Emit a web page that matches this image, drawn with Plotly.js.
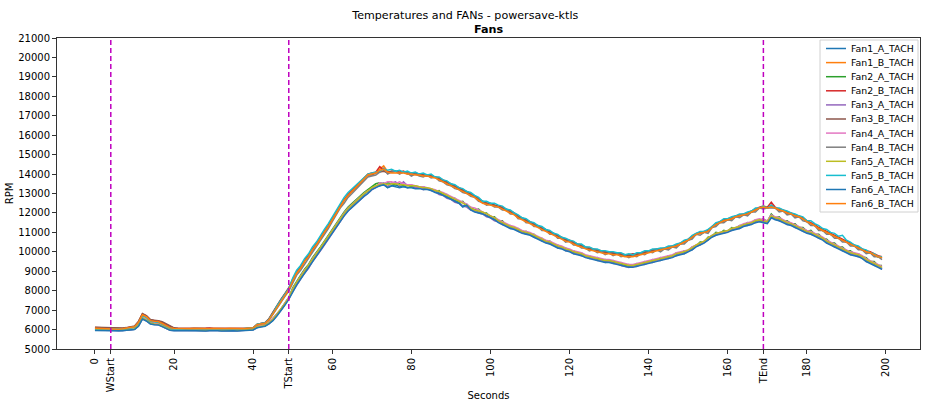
<!DOCTYPE html>
<html>
<head>
<meta charset="utf-8">
<script src="https://cdn.plot.ly/plotly-3.0.1.min.js"></script>
<style>
  html, body { margin: 0; padding: 0; background: #fff; }
  #chart { width: 925px; height: 401px; }
</style>
</head>
<body>
<div id="chart"></div>
<script>
// Fan tachometer readings (RPM), one sample per second, 0..199 s
const fan1A = [
  5980,5980,5970,5960,5950,5950,5940,5960,5980,6000,
  6020,6200,6580,6480,6330,6280,6270,6180,6080,5980,
  5960,5950,5960,5970,5960,5960,5970,5960,5950,5960,
  5970,5960,5950,5960,5970,5960,5950,5960,5970,5980,
  6000,6120,6180,6200,6320,6500,6750,7000,7300,7600,
  8050,8400,8700,9000,9250,9600,9850,10150,10450,10750,
  11050,11400,11700,11950,12200,12400,12600,12800,12950,13100,
  13250,13350,13400,13450,13300,13400,13450,13350,13400,13300,
  13350,13300,13300,13250,13250,13200,13100,13050,12950,12850,
  12750,12650,12550,12350,12450,12200,12100,12050,12000,11900,
  11800,11700,11550,11450,11350,11250,11200,11100,11000,10950,
  10900,10800,10700,10600,10500,10450,10350,10250,10200,10100,
  10050,9950,9900,9850,9750,9700,9650,9600,9550,9500,
  9500,9450,9400,9350,9300,9250,9250,9300,9350,9400,
  9450,9500,9550,9600,9650,9700,9750,9850,9900,9950,
  10050,10150,10300,10400,10500,10650,10800,10900,10950,11000,
  11050,11150,11200,11250,11350,11400,11450,11550,11600,11550,
  11500,11800,11700,11650,11550,11450,11400,11300,11200,11100,
  11000,10950,10850,10750,10650,10500,10400,10300,10200,10100,
  10000,9900,9850,9800,9700,9550,9450,9350,9250,9150
];
const fan1B = [
  6080,6070,6060,6050,6040,6030,6030,6050,6080,6120,
  6150,6380,6780,6680,6480,6440,6420,6320,6220,6120,
  6060,6050,6060,6050,6050,6060,6050,6060,6060,6050,
  6060,6050,6040,6050,6060,6050,6040,6050,6060,6070,
  6100,6270,6320,6340,6520,6820,7180,7480,7780,8080,
  8520,8920,9180,9520,9780,10120,10380,10720,11020,11320,
  11680,12020,12380,12680,12920,13120,13320,13520,13780,13980,
  14020,14080,14250,14420,14120,14100,14150,14100,14100,14050,
  14050,14000,14000,13950,13950,13900,13850,13750,13650,13550,
  13450,13350,13250,13150,13050,12950,12850,12700,12550,12500,
  12450,12400,12350,12250,12150,12050,11950,11800,11700,11600,
  11500,11400,11300,11200,11100,11000,10900,10800,10700,10600,
  10550,10450,10350,10300,10200,10150,10100,10050,10000,9950,
  9950,9900,9900,9850,9800,9750,9800,9850,9900,9950,
  10000,10050,10100,10100,10150,10200,10250,10300,10400,10500,
  10600,10750,10900,10950,11000,11050,11250,11400,11500,11600,
  11650,11700,11800,11850,11900,11950,12050,12150,12250,12300,
  12250,12350,12250,12150,12100,12000,11950,11850,11800,11700,
  11550,11450,11350,11200,11100,11000,10900,10800,10700,10600,
  10500,10400,10300,10200,10100,10000,9950,9850,9750,9700
];
const fan2A = [
  6000,6000,5990,5980,5980,5970,5970,5980,6000,6020,
  6050,6250,6600,6500,6350,6300,6300,6200,6100,6000,
  5980,5970,5980,5990,5980,5980,5990,5980,5980,5990,
  5990,5980,5980,5990,5990,5980,5980,5990,5990,6000,
  6020,6150,6200,6220,6350,6550,6800,7050,7350,7650,
  8150,8500,8800,9100,9350,9700,9950,10250,10550,10850,
  11150,11500,11800,12050,12300,12500,12700,12900,13050,13200,
  13350,13500,13550,13500,13550,13500,13450,13500,13400,13450,
  13350,13400,13300,13350,13250,13250,13100,13150,12950,12950,
  12750,12750,12550,12600,12350,12300,12150,12200,12000,12000,
  11800,11800,11600,11600,11350,11350,11200,11200,11000,11050,
  10900,10900,10700,10700,10500,10550,10350,10350,10200,10200,
  10050,10050,9900,9950,9750,9800,9650,9700,9550,9600,
  9500,9550,9400,9450,9300,9350,9250,9400,9350,9500,
  9450,9600,9550,9700,9650,9800,9750,9950,9900,10050,
  10050,10250,10300,10500,10500,10750,10800,11000,10950,11100,
  11050,11250,11200,11350,11350,11500,11450,11650,11600,11700,
  11550,11950,11750,11800,11600,11600,11450,11450,11250,11250,
  11050,11100,10900,10900,10700,10650,10450,10450,10250,10250,
  10050,10050,9900,9900,9750,9700,9500,9500,9300,9300
];
const fan2B = [
  6100,6090,6080,6070,6060,6050,6040,6060,6090,6130,
  6160,6400,6800,6700,6500,6460,6440,6350,6250,6140,
  6070,6060,6050,6060,6050,6050,6060,6050,6070,6080,
  6050,6060,6050,6040,6050,6060,6050,6040,6050,6060,
  6090,6260,6330,6360,6550,6850,7200,7520,7820,8100,
  8550,8950,9200,9550,9800,10150,10400,10750,11050,11350,
  11700,12050,12400,12700,12950,13150,13350,13550,13800,14000,
  14050,14100,14380,14200,14100,14150,14150,14100,14150,14050,
  14000,14050,14000,13950,13900,13900,13850,13800,13700,13600,
  13500,13400,13300,13200,13100,13000,12850,12750,12600,12500,
  12500,12400,12350,12300,12200,12100,12000,11850,11750,11650,
  11550,11450,11350,11250,11150,11050,10950,10850,10750,10650,
  10600,10500,10400,10350,10250,10200,10150,10100,10050,10000,
  10000,9950,9950,9900,9850,9850,9900,9900,9950,10000,
  10050,10100,10150,10150,10200,10250,10300,10350,10450,10550,
  10650,10800,10950,11000,11050,11100,11300,11450,11550,11650,
  11700,11750,11850,11900,11950,12000,12100,12200,12300,12350,
  12300,12550,12300,12200,12150,12050,12000,11900,11850,11750,
  11600,11500,11400,11250,11150,11050,10950,10850,10750,10650,
  10550,10450,10350,10250,10150,10050,10000,9900,9800,9750
];
const fan3A = [
  5960,5960,5950,5950,5940,5940,5930,5950,5970,5990,
  6010,6180,6550,6450,6300,6260,6250,6160,6060,5970,
  5950,5940,5950,5960,5950,5950,5960,5950,5940,5950,
  5960,5950,5940,5950,5960,5950,5940,5950,5960,5970,
  5990,6100,6160,6180,6300,6480,6720,6980,7280,7580,
  7950,8300,8600,8900,9150,9500,9750,10050,10350,10650,
  10950,11300,11600,11850,12100,12300,12500,12700,12850,13000,
  13200,13300,13450,13550,13350,13550,13600,13400,13600,13400,
  13450,13300,13350,13200,13250,13150,13100,12950,12900,12750,
  12700,12550,12500,12350,12300,12150,12100,12000,11950,11800,
  11750,11600,11550,11400,11350,11200,11200,11050,11000,10900,
  10900,10750,10700,10550,10500,10400,10350,10200,10200,10050,
  10050,9900,9900,9800,9750,9650,9650,9550,9550,9450,
  9500,9400,9400,9300,9250,9200,9250,9250,9350,9350,
  9450,9450,9550,9550,9650,9650,9750,9800,9900,9900,
  10050,10100,10300,10350,10500,10600,10800,10850,10950,10950,
  11050,11100,11200,11200,11350,11350,11450,11500,11600,11500,
  11500,11750,11700,11600,11550,11400,11400,11250,11200,11050,
  11000,10900,10850,10700,10650,10450,10400,10250,10200,10050,
  10000,9850,9850,9750,9700,9500,9450,9300,9250,9100
];
const fan3B = [
  6120,6110,6100,6090,6080,6070,6060,6080,6100,6140,
  6180,6420,6820,6720,6520,6480,6460,6400,6300,6170,
  6090,6070,6060,6050,6060,6070,6060,6050,6060,6050,
  6060,6070,6060,6050,6040,6050,6060,6050,6060,6070,
  6080,6240,6310,6330,6560,6900,7250,7550,7850,8150,
  8600,8950,9250,9550,9800,10100,10350,10700,11000,11300,
  11650,12000,12350,12650,12900,13100,13300,13500,13750,13950,
  13950,14050,14100,14150,14050,14150,14150,14050,14100,14000,
  14050,14000,13950,13950,13900,13900,13850,13750,13650,13550,
  13450,13350,13250,13150,13050,12950,12850,12700,12600,12500,
  12450,12400,12300,12250,12150,12050,11950,11800,11700,11600,
  11500,11400,11300,11200,11100,11000,10900,10800,10700,10600,
  10550,10450,10350,10300,10200,10150,10100,10050,10000,9950,
  9950,9900,9900,9850,9800,9800,9800,9850,9900,9950,
  10000,10050,10100,10100,10150,10200,10250,10300,10400,10500,
  10600,10750,10900,10950,11000,11050,11250,11400,11500,11600,
  11650,11700,11800,11850,11900,11950,12050,12150,12250,12300,
  12250,12400,12250,12150,12100,12000,11950,11850,11800,11700,
  11550,11450,11350,11200,11100,11000,10900,10800,10700,10600,
  10500,10400,10300,10200,10100,10000,9950,9850,9750,9700
];
const fan4A = [
  6000,6000,5990,5990,5980,5970,5970,5990,6010,6030,
  6060,6260,6620,6520,6370,6320,6310,6210,6110,6010,
  5990,5980,5990,6000,5990,5990,6000,5990,5990,6000,
  6000,5990,5990,6000,6000,5990,5990,6000,6000,6010,
  6030,6160,6210,6230,6360,6560,6800,7050,7350,7650,
  8100,8450,8750,9050,9300,9650,9900,10200,10500,10800,
  11100,11450,11750,12000,12250,12450,12650,12850,13000,13150,
  13200,13350,13550,13500,13600,13600,13500,13600,13500,13450,
  13450,13400,13350,13350,13300,13250,13200,13100,13050,12950,
  12850,12750,12650,12550,12450,12300,12250,12150,12050,11950,
  11850,11750,11650,11550,11450,11350,11300,11200,11100,11050,
  11000,10900,10800,10700,10600,10550,10450,10350,10300,10200,
  10150,10050,10000,9950,9850,9800,9750,9700,9650,9600,
  9600,9550,9500,9450,9400,9350,9350,9400,9450,9500,
  9550,9600,9650,9700,9750,9800,9850,9950,10000,10050,
  10100,10250,10350,10450,10550,10700,10850,10950,11000,11050,
  11100,11200,11250,11350,11450,11500,11550,11650,11700,11650,
  11600,11900,11800,11750,11650,11550,11500,11400,11300,11200,
  11100,11050,10950,10850,10750,10600,10500,10400,10300,10200,
  10100,10000,9950,9900,9800,9650,9550,9450,9350,9250
];
const fan4B = [
  6060,6050,6050,6040,6030,6020,6020,6040,6060,6100,
  6130,6350,6720,6640,6430,6400,6380,6280,6180,6090,
  6030,6020,6030,6020,6030,6040,6030,6020,6030,6040,
  6030,6020,6030,6040,6030,6020,6030,6040,6030,6050,
  6070,6230,6290,6300,6480,6780,7100,7400,7700,7980,
  8350,8800,9050,9350,9650,9950,10250,10550,10900,11200,
  11550,11900,12250,12500,12800,13000,13200,13400,13650,13850,
  13900,13950,14100,14300,14000,14100,14150,14000,14100,14050,
  13900,14000,13900,13850,13950,13800,13850,13650,13600,13450,
  13400,13250,13200,13050,13000,12850,12800,12600,12550,12400,
  12450,12300,12300,12150,12150,11950,11950,11700,11700,11500,
  11500,11300,11300,11100,11100,10900,10900,10700,10700,10500,
  10550,10350,10350,10200,10200,10050,10100,9950,10000,9850,
  9950,9800,9900,9750,9800,9700,9800,9750,9900,9850,
  10000,9950,10100,10000,10150,10100,10250,10200,10400,10400,
  10600,10650,10900,10850,11000,10950,11250,11300,11500,11500,
  11650,11600,11800,11750,11900,11850,12050,12050,12250,12200,
  12250,12250,12250,12050,12100,11900,11950,11750,11800,11600,
  11550,11350,11350,11100,11100,10900,10900,10700,10700,10500,
  10500,10300,10300,10100,10100,9900,9950,9750,9750,9600
];
const fan5A = [
  5990,5990,5980,5970,5970,5960,5960,5970,5990,6010,
  6040,6230,6590,6490,6340,6290,6280,6190,6090,5990,
  5970,5960,5970,5980,5970,5970,5980,5970,5960,5970,
  5980,5970,5960,5970,5980,5970,5960,5970,5980,5990,
  6010,6140,6190,6210,6340,6530,6780,7030,7330,7630,
  8080,8430,8730,9030,9280,9630,9880,10180,10480,10780,
  11080,11430,11730,11980,12230,12430,12630,12830,12980,13130,
  13300,13400,13450,13500,13450,13500,13500,13450,13450,13400,
  13400,13400,13350,13300,13300,13250,13150,13100,13000,12900,
  12800,12700,12600,12500,12400,12250,12150,12100,12050,11950,
  11850,11750,11600,11500,11400,11300,11250,11150,11050,11000,
  10950,10850,10750,10650,10550,10500,10400,10300,10250,10150,
  10100,10000,9950,9900,9800,9750,9700,9650,9600,9550,
  9550,9500,9450,9400,9350,9300,9300,9350,9400,9450,
  9500,9550,9600,9650,9700,9750,9800,9900,9950,10000,
  10100,10200,10350,10450,10550,10700,10850,10950,11000,11050,
  11100,11200,11250,11300,11400,11450,11500,11600,11650,11600,
  11550,11850,11750,11700,11600,11500,11450,11350,11250,11150,
  11050,11000,10900,10800,10700,10550,10450,10350,10250,10150,
  10050,9950,9900,9850,9750,9600,9500,9400,9300,9200
];
const fan5B = [
  6040,6040,6030,6030,6020,6010,6010,6030,6050,6090,
  6120,6330,6700,6620,6420,6400,6380,6280,6170,6080,
  6020,6030,6040,6030,6020,6030,6040,6030,6020,6030,
  6040,6030,6020,6030,6040,6030,6020,6030,6040,6060,
  6090,6280,6320,6350,6530,6830,7200,7500,7800,8100,
  8650,9050,9300,9650,9900,10250,10500,10850,11150,11450,
  11800,12150,12500,12800,13050,13250,13450,13650,13850,14000,
  14050,14100,14150,14250,14200,14250,14150,14200,14100,14150,
  14050,14100,14000,14050,13950,14000,13850,13850,13700,13650,
  13500,13450,13300,13250,13100,13050,12900,12800,12600,12600,
  12500,12500,12400,12350,12200,12150,12000,11900,11750,11700,
  11550,11500,11350,11300,11150,11100,10950,10900,10750,10700,
  10600,10550,10400,10400,10250,10250,10150,10150,10050,10050,
  10000,10000,9950,9950,9850,9900,9850,9950,9950,10050,
  10050,10150,10150,10200,10200,10300,10300,10400,10450,10600,
  10650,10850,10950,11050,11050,11150,11300,11500,11550,11700,
  11700,11800,11850,11950,11950,12050,12100,12250,12250,12350,
  12250,12400,12250,12250,12150,12100,12000,11950,11850,11800,
  11600,11600,11450,11350,11200,11150,11000,10950,10800,10850,
  10600,10500,10350,10300,10150,10100,9950,9900,9750,9750
];
const fan6A = [
  5950,5950,5940,5940,5930,5930,5920,5940,5960,5980,
  6000,6170,6540,6440,6290,6250,6240,6150,6050,5960,
  5940,5930,5940,5950,5940,5940,5950,5940,5930,5940,
  5950,5940,5930,5940,5950,5940,5930,5940,5950,5960,
  5980,6090,6150,6170,6290,6460,6700,6950,7250,7550,
  7950,8300,8600,8900,9150,9500,9750,10050,10350,10650,
  10950,11300,11600,11850,12100,12300,12500,12700,12850,13000,
  13200,13300,13400,13450,13300,13400,13350,13300,13350,13300,
  13300,13250,13250,13200,13200,13150,13050,13000,12900,12800,
  12700,12600,12500,12300,12400,12150,12050,12000,11950,11850,
  11750,11650,11500,11400,11300,11200,11150,11050,10950,10900,
  10850,10750,10650,10550,10450,10400,10300,10200,10150,10050,
  10000,9900,9850,9800,9700,9650,9600,9550,9500,9450,
  9450,9400,9350,9300,9250,9200,9200,9250,9300,9350,
  9400,9450,9500,9550,9600,9650,9700,9800,9850,9900,
  10000,10100,10250,10350,10450,10600,10750,10850,10900,10950,
  11000,11100,11150,11200,11300,11350,11400,11500,11550,11500,
  11450,11750,11650,11600,11500,11400,11350,11250,11150,11050,
  10950,10900,10800,10700,10600,10450,10350,10250,10150,10050,
  9950,9850,9800,9750,9650,9500,9400,9300,9200,9100
];
const fan6B = [
  6070,6060,6050,6040,6030,6020,6020,6040,6070,6110,
  6140,6360,6760,6660,6460,6430,6410,6310,6200,6100,
  6050,6040,6050,6040,6040,6050,6040,6050,6050,6040,
  6050,6040,6030,6040,6050,6040,6030,6040,6050,6060,
  6090,6250,6300,6320,6500,6800,7150,7450,7750,8050,
  8500,8900,9150,9500,9750,10100,10350,10700,11000,11300,
  11650,12000,12350,12650,12900,13100,13300,13500,13750,13950,
  14000,14050,14200,14250,14100,14050,14050,14050,14050,14000,
  14000,13950,13950,13900,13900,13850,13800,13700,13600,13500,
  13400,13300,13200,13100,13000,12900,12800,12650,12500,12450,
  12400,12350,12300,12200,12100,12000,11900,11750,11650,11550,
  11450,11350,11250,11150,11050,10950,10850,10750,10650,10550,
  10500,10400,10300,10250,10150,10100,10050,10000,9950,9900,
  9900,9850,9850,9800,9750,9750,9750,9800,9850,9900,
  9950,10000,10050,10100,10150,10200,10250,10300,10400,10500,
  10600,10750,10900,10950,11000,11050,11250,11400,11500,11600,
  11650,11700,11800,11850,11900,11950,12050,12150,12250,12300,
  12250,12300,12250,12150,12100,12000,11950,11850,11800,11700,
  11550,11450,11350,11200,11100,11000,10900,10800,10700,10600,
  10500,10400,10300,10200,10100,10000,9950,9850,9750,9700
];

const seriesNames = [
  "Fan1_A_TACH", "Fan1_B_TACH", "Fan2_A_TACH", "Fan2_B_TACH",
  "Fan3_A_TACH", "Fan3_B_TACH", "Fan4_A_TACH", "Fan4_B_TACH",
  "Fan5_A_TACH", "Fan5_B_TACH", "Fan6_A_TACH", "Fan6_B_TACH"
];
const seriesValues = [fan1A, fan1B, fan2A, fan2B, fan3A, fan3B,
                      fan4A, fan4B, fan5A, fan5B, fan6A, fan6B];
const seriesColors = [
  "#1f77b4", "#ff7f0e", "#2ca02c", "#d62728", "#9467bd", "#8c564b",
  "#e377c2", "#7f7f7f", "#bcbd22", "#17becf", "#1f77b4", "#ff7f0e"
];

// Phase markers (seconds)
const markerNames = ["WStart", "TStart", "TEnd"];
const markerTimes = [4, 49, 169];

const xTickValues = [0, 20, 40, 60, 80, 100, 120, 140, 160, 180, 200];
const yTickValues = [5000, 6000, 7000, 8000, 9000, 10000, 11000, 12000,
                     13000, 14000, 15000, 16000, 17000, 18000, 19000, 20000, 21000];

const FONT = "DejaVu Sans, Verdana, sans-serif";

// Plot-area geometry in pixels, used to place the legend box in paper units
const M = { l: 57, r: 5, t: 38, b: 52 };
const W = 925, H = 401;
const plotW = W - M.l - M.r, plotH = H - M.t - M.b;
const px = x => (x - M.l) / plotW;
const py = y => (H - M.b - y) / plotH;

const traces = seriesValues.map((vals, i) => ({
  type: "scatter",
  mode: "lines",
  name: seriesNames[i],
  x: vals.map((_, t) => t),
  y: vals,
  line: { color: seriesColors[i], width: 1.5 },
  hoverinfo: "skip",
  showlegend: false
}));

const shapes = markerTimes.map(t => ({
  type: "line", xref: "x", yref: "paper",
  x0: t, x1: t, y0: 0, y1: 1,
  line: { color: "#bf00bf", width: 1.5, dash: "5px,3px" }
}));

// Legend: framed box with a short line sample and label per series
const annotations = [{
  text: "<b>Fans</b>", xref: "paper", yref: "paper",
  x: 0.5, y: py(29), xanchor: "center", yanchor: "middle",
  showarrow: false, font: { family: FONT, size: 11.2, color: "#000" }
}];
const LEG = { x0: 820, x1: 918, y0: 40, y1: 212, row0: 48.5, step: 14.1,
              lineX0: 826, lineX1: 846, textX: 850 };
shapes.push({
  type: "rect", xref: "paper", yref: "paper", layer: "above",
  x0: px(LEG.x0), x1: px(LEG.x1), y0: py(LEG.y0), y1: py(LEG.y1),
  fillcolor: "rgba(255,255,255,0.85)",
  line: { color: "#d0d0d0", width: 1 }
});
seriesNames.forEach((name, i) => {
  const yc = LEG.row0 + LEG.step * i;
  shapes.push({
    type: "line", xref: "paper", yref: "paper", layer: "above",
    x0: px(LEG.lineX0), x1: px(LEG.lineX1), y0: py(yc), y1: py(yc),
    line: { color: seriesColors[i], width: 1.5 }
  });
  annotations.push({
    text: name, xref: "paper", yref: "paper",
    x: px(LEG.textX), y: py(yc), xanchor: "left", yanchor: "middle",
    showarrow: false, borderpad: 0,
    font: { family: FONT, size: 9.4, color: "#000" }
  });
});

const layout = {
  width: W, height: H,
  margin: M,
  paper_bgcolor: "#ffffff",
  plot_bgcolor: "#ffffff",
  font: { family: FONT, size: 10, color: "#000" },
  title: {
    text: "Temperatures and FANs - powersave-ktls",
    font: { family: FONT, size: 11.1, color: "#000" },
    xref: "container", x: 0.503, xanchor: "center",
    yref: "container", y: 1 - 15 / H, yanchor: "middle"
  },
  annotations: annotations,
  xaxis: {
    range: [-9.6, 208.6],
    tickmode: "array",
    tickvals: xTickValues.concat(markerTimes),
    ticktext: xTickValues.map(String).concat(markerNames),
    tickangle: -90,
    ticks: "outside", ticklen: 4, tickcolor: "#333", tickwidth: 1,
    showgrid: false, zeroline: false,
    showline: true, linecolor: "#333", linewidth: 1, mirror: true,
    tickfont: { family: FONT, size: 10, color: "#000" },
    title: { text: "Seconds", font: { family: FONT, size: 10, color: "#000" }, standoff: 6 }
  },
  yaxis: {
    range: [5000, 21000],
    tickmode: "array",
    tickvals: yTickValues,
    ticktext: yTickValues.map(String),
    ticks: "outside", ticklen: 4, tickcolor: "#333", tickwidth: 1,
    showgrid: false, zeroline: false,
    showline: true, linecolor: "#333", linewidth: 1, mirror: true,
    tickfont: { family: FONT, size: 10, color: "#000" },
    title: { text: "RPM", font: { family: FONT, size: 10, color: "#000" }, standoff: 2 }
  },
  shapes: shapes,
  showlegend: false
};

Plotly.newPlot("chart", traces, layout, { staticPlot: true, displayModeBar: false });
</script>
</body>
</html>
